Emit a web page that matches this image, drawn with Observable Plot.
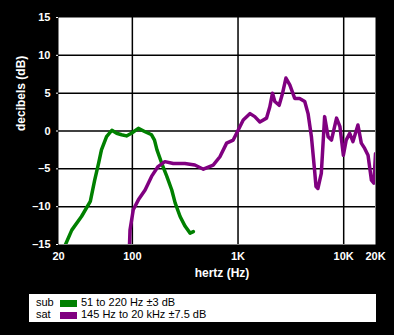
<!DOCTYPE html>
<html>
<head>
<meta charset="utf-8">
<script src="https://cdn.jsdelivr.net/npm/d3@7"></script>
<script src="https://cdn.jsdelivr.net/npm/@observablehq/plot@0.6"></script>
<style>
  body { margin: 0; background: black; }
  #c { position: relative; width: 394px; height: 335px; background: black; overflow: hidden; }
  #legend { position: absolute; left: 29px; top: 294px; width: 347px; height: 28px; background: white;
            font-family: "Liberation Sans", Arial, sans-serif; font-size: 11px; color: black; }
  .row { position: absolute; left: 0; height: 12px; line-height: 12px; width: 100%; }
  .row span { position: absolute; top: 0; white-space: nowrap; }
  .sw { position: absolute; left: 30.5px; top: 4px; width: 17px; height: 7px; }
</style>
</head>
<body>
<div id="c"></div>
<script>
// Sub-woofer response (Hz, dB)
const subFreq = [23.3, 26.7, 33, 40, 44, 48, 51, 57, 64, 71, 79, 88, 98, 114, 132, 152, 162, 171, 190, 212, 236, 254, 283, 316, 352, 378];
const subDb   = [-15, -13.1, -11.3, -9.3, -6.5, -4.2, -2.5, -0.75, 0.1, -0.3, -0.5, -0.65, -0.3, 0.35, -0.1, -0.5, -1.2, -2.5, -4.3, -6.0, -7.8, -9.5, -11.3, -12.6, -13.5, -13.3];

// Satellite response (Hz, dB)
const satFreq = [94, 95, 102, 114, 132, 152, 175, 203, 244, 314, 390, 470, 582, 674, 780, 900, 970, 1120, 1300, 1440, 1610, 1860, 2000, 2120, 2230, 2450, 2640, 2840, 3090, 3440, 3830, 4280, 4600, 4950, 5300, 5470, 5700, 6140, 6600, 7120, 7660, 8560, 9220, 9930, 10560, 11400, 12240, 13640, 14680, 15800, 17000, 18300, 19300, 20000];
const satDb   = [-15, -13.1, -10.4, -9.1, -7.8, -6.0, -4.7, -4.05, -4.3, -4.3, -4.5, -5.05, -4.5, -3.4, -1.6, -1.2, -0.3, 1.45, 2.3, 1.9, 1.2, 1.7, 3.2, 5.0, 3.9, 3.4, 5.0, 7.0, 6.1, 4.3, 4.3, 3.9, 2.3, -0.75, -5.15, -7.35, -7.6, -5.6, 1.9, -0.75, -1.2, 1.7, 0.57, -3.2, -1.2, -0.3, -1.4, 0.8, -1.6, -2.3, -3.2, -6.5, -6.9, -3];

const xTicks = [20, 100, 1000, 10000, 20000];
const xTickLabels = ["20", "100", "1K", "10K", "20K"];
const yTicks = [-15, -10, -5, 0, 5, 10, 15];
const gridX = [100, 1000, 10000];
const gridY = [-10, -5, 0, 5, 10];

const seriesNames = ["sub", "sat"];
const seriesColors = ["#008000", "#800080"];
const seriesDesc = ["51 to 220 Hz \u00b13 dB", "145 Hz to 20 kHz \u00b17.5 dB"];

const sub = subFreq.map((f, i) => ({f, db: subDb[i]}));
const sat = satFreq.map((f, i) => ({f, db: satDb[i]}));

const font = '"Liberation Sans", Arial, sans-serif';

const chart = Plot.plot({
  width: 394,
  height: 290,
  marginLeft: 58,
  marginRight: 19,
  marginTop: 17,
  marginBottom: 46,
  style: {background: "black", color: "white", fontFamily: font, fontSize: "11px", fontWeight: "bold"},
  x: {type: "log", domain: [20, 20000]},
  y: {domain: [-15, 15]},
  marks: [
    Plot.frame({fill: "white", stroke: "none"}),
    Plot.ruleX(gridX, {x: d => d, stroke: "black", strokeWidth: 1.5}),
    Plot.ruleY(gridY, {y: d => d, stroke: "black", strokeWidth: 1.5}),
    Plot.line(sub, {x: "f", y: "db", stroke: seriesColors[0], strokeWidth: 3.5, clip: true}),
    Plot.line(sat, {x: "f", y: "db", stroke: seriesColors[1], strokeWidth: 3.5, clip: true}),
    Plot.axisX({ticks: xTicks, tickFormat: d => xTickLabels[xTicks.indexOf(d)], tickSize: 0, tickPadding: 8, label: null}),
    Plot.axisY({ticks: yTicks, tickFormat: d => d < 0 ? "\u2013" + Math.abs(d) : String(d), tickSize: 2, tickPadding: 6, label: null}),
    Plot.text(["hertz (Hz)"], {text: d => d, frameAnchor: "bottom", dy: 32, dx: 5, fontSize: 12, fill: "white"}),
    Plot.text(["decibels (dB)"], {text: d => d, frameAnchor: "left", rotate: -90, dx: -37, fontSize: 12, fill: "white"})
  ]
});

const c = document.getElementById("c");
chart.style.position = "absolute";
chart.style.left = "0";
chart.style.top = "0";
c.appendChild(chart);

const legend = document.createElement("div");
legend.id = "legend";
seriesNames.forEach((name, i) => {
  const row = document.createElement("div");
  row.className = "row";
  row.style.top = (2 + i * 11.5) + "px";
  const lab = document.createElement("span");
  lab.style.left = "7px";
  lab.textContent = name;
  const sw = document.createElement("div");
  sw.className = "sw";
  sw.style.background = seriesColors[i];
  const txt = document.createElement("span");
  txt.style.left = "52px";
  txt.textContent = seriesDesc[i];
  row.appendChild(lab);
  row.appendChild(sw);
  row.appendChild(txt);
  legend.appendChild(row);
});
c.appendChild(legend);
</script>
</body>
</html>
